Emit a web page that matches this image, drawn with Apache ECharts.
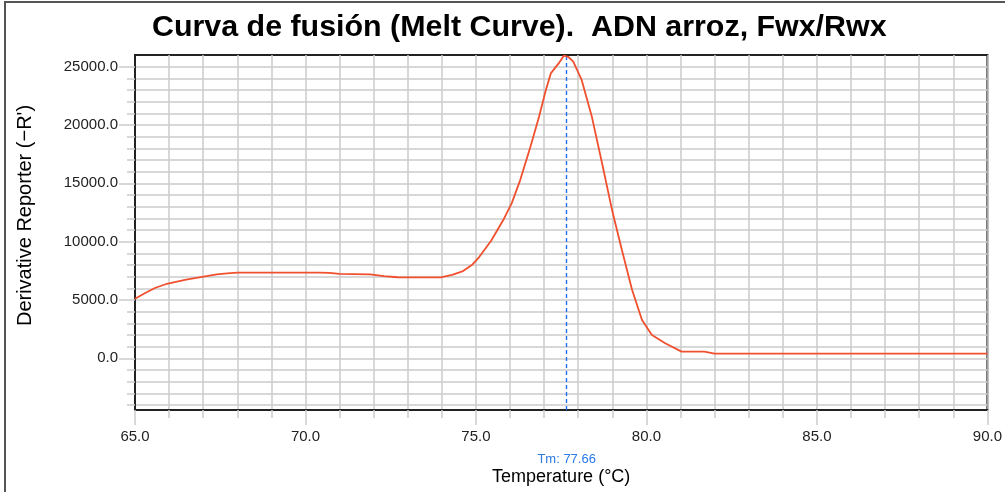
<!DOCTYPE html>
<html>
<head>
<meta charset="utf-8">
<script src="https://cdn.jsdelivr.net/npm/echarts@6/dist/echarts.min.js"></script>
<style>
  html, body { margin: 0; padding: 0; background: #fff; }
  #chart { position: absolute; left: 0; top: 0; width: 1005px; height: 492px; }
  #frame { position: absolute; left: 4px; top: 1px; width: 1001px; height: 491px;
           border-left: 2px solid #555; border-top: 2px solid #555; pointer-events: none; }
</style>
</head>
<body>
<div id="chart"></div>
<div id="frame"></div>
<script>
// ---- data ----
const titleText = 'Curva de fusión (Melt Curve).  ADN arroz, Fwx/Rwx';
const xName = 'Temperature (°C)';
const yName = "Derivative Reporter (−R')";
const tmValue = 77.66;
const tmLabel = 'Tm: 77.66';

const temps = [65.0, 65.3, 65.6, 65.9, 66.2, 66.5, 66.8, 67.1, 67.4, 67.7, 68.0, 68.5, 69.0, 69.5, 70.0, 70.4, 70.7, 71.0,
  71.4, 71.9, 72.3, 72.7, 73.2, 73.7, 74.0, 74.3, 74.6, 74.9, 75.1, 75.45, 75.8, 76.05, 76.3, 76.6, 76.85, 77.05,
  77.2, 77.43, 77.58, 77.7, 77.85, 78.1, 78.4, 78.7, 79.0, 79.28, 79.58, 79.87, 80.16, 80.55, 81.03, 81.7, 82.0, 83.0,
  84.0, 85.0, 86.0, 87.0, 88.0, 89.0, 90.0];
const derivValues = [5100, 5600, 6050, 6350, 6550, 6750, 6900, 7050, 7200, 7280, 7340, 7350, 7350, 7350, 7350, 7340, 7320, 7230,
  7220, 7200, 7050, 6950, 6930, 6930, 6950, 7150, 7450, 8050, 8700, 10100, 11850, 13300, 15300, 18150, 20700, 23000,
  24450, 25300, 25950, 25850, 25450, 23860, 20700, 16700, 12600, 9290, 5860, 3280, 2000, 1290, 570, 570, 400, 400,
  400, 400, 400, 400, 400, 400, 400];

const xMin = 65, xMax = 90, xMajor = 5;
const yMin = -4430, yMax = 26000;
const yMinorTicks = [-4000, -3000, -2000, -1000, 0, 1000, 2000, 3000, 4000, 5000, 6000, 7000, 8000, 9000, 10000,
  11000, 12000, 13000, 14000, 15000, 16000, 17000, 18000, 19000, 20000, 21000, 22000, 23000, 24000, 25000];
const yLabelTicks = [0, 5000, 10000, 15000, 20000, 25000];

const gridColor = '#cbcbcb';
const fontFam = '"Liberation Sans", Arial, sans-serif';

const chart = echarts.init(document.getElementById('chart'), null, { renderer: 'canvas' });
const seriesData = temps.map((t, i) => [t, derivValues[i]]);

chart.setOption({
  animation: false,
  backgroundColor: '#fff',
  title: {
    text: titleText, left: 147, top: 8,
    textStyle: { fontFamily: '"Liberation Sans", Arial', fontWeight: 'bold', fontSize: 30.4, color: '#000' }
  },
  grid: { left: 135, right: 15, top: 55, bottom: 82, show: true, borderColor: '#222', borderWidth: 2, backgroundColor: '#fff' },
  xAxis: {
    type: 'value', min: xMin, max: xMax, interval: xMajor,
    name: xName, nameLocation: 'middle', nameGap: 58,
    nameTextStyle: { fontFamily: fontFam, fontSize: 18, color: '#000' },
    axisLine: { show: true, onZero: false, lineStyle: { color: '#222', width: 2 } },
    axisTick: { show: true, length: 15, lineStyle: { color: gridColor, width: 1.5 } },
    minorTick: { show: true, splitNumber: 5, length: 8, lineStyle: { color: gridColor, width: 1.5 } },
    splitLine: { show: true, lineStyle: { color: gridColor, width: 1.5 } },
    minorSplitLine: { show: true, lineStyle: { color: gridColor, width: 1.5 } },
    axisLabel: { margin: 19, fontFamily: fontFam, fontSize: 15, color: '#222', formatter: v => v.toFixed(1) }
  },
  yAxis: [
    {
      type: 'value', min: yMin, max: yMax, minInterval: 1000, maxInterval: 1000, position: 'left',
      name: yName, nameLocation: 'middle', nameGap: 100,
      nameTextStyle: { fontFamily: fontFam, fontSize: 20, color: '#000', padding: [0, 0, 0, 34] },
      axisLine: { show: true, onZero: false, lineStyle: { color: '#222', width: 2 } },
      axisTick: { show: true, length: 8, customValues: yMinorTicks, lineStyle: { color: gridColor, width: 1.5 } },
      splitLine: { show: true, lineStyle: { color: gridColor, width: 1.5 } },
      axisLabel: { show: false }
    },
    {
      type: 'value', min: yMin, max: yMax, position: 'left',
      axisLine: { show: false, onZero: false },
      axisTick: { show: true, length: 16, customValues: yLabelTicks, lineStyle: { color: gridColor, width: 1.5 } },
      splitLine: { show: false },
      axisLabel: { show: true, customValues: yLabelTicks, margin: 17, fontFamily: fontFam, fontSize: 15, color: '#222',
        formatter: v => v.toFixed(1) }
    }
  ],
  series: [{
    type: 'line', data: seriesData, showSymbol: false, smooth: false, z: 5,
    lineStyle: { color: '#f0502e', width: 1.8 },
    markLine: {
      silent: true, symbol: 'none', animation: false,
      lineStyle: { color: '#1f6ff0', type: [4, 3], width: 1.4 },
      label: { show: true, position: 'start', distance: 43, formatter: tmLabel, color: '#2a7ae8', fontFamily: fontFam, fontSize: 13 },
      data: [{ xAxis: tmValue }]
    }
  }]
});
</script>
</body>
</html>
